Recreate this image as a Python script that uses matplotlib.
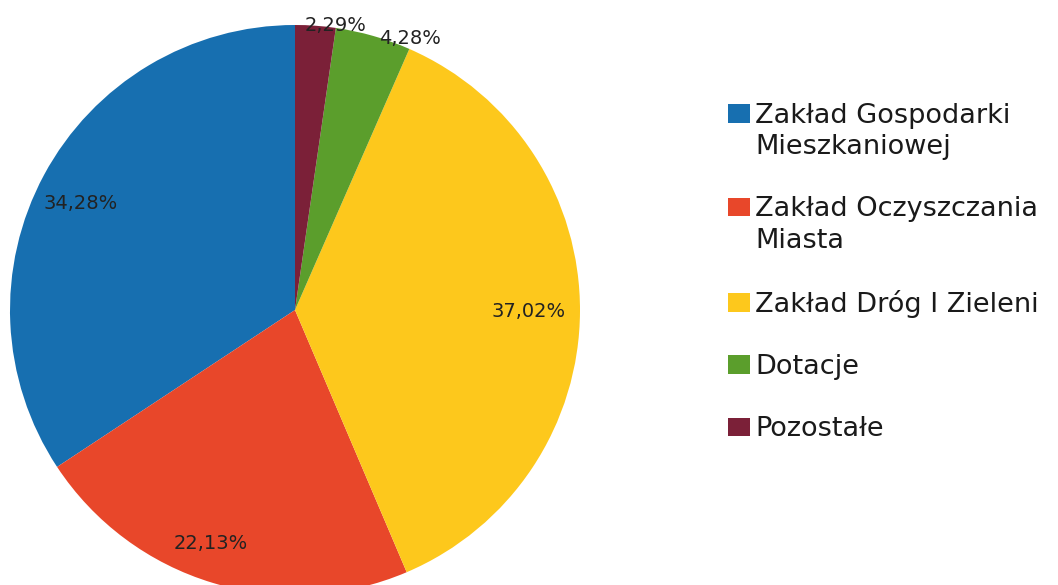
import matplotlib
matplotlib.use('Agg')
import matplotlib.pyplot as plt
from matplotlib.patches import Patch
import numpy as np

categories = ["Zakład Gospodarki\nMieszkaniowej", "Zakład Oczyszczania\nMiasta",
              "Zakład Dróg I Zieleni", "Dotacje", "Pozostałe"]
shares = [34.28, 22.13, 37.02, 4.28, 2.29]
colors = ["#176fb0", "#e8472a", "#fdc81c", "#5b9e2c", "#7b2038"]

# label placement per slice (radius, angle shift in degrees)
label_r = [0.84, 0.87, 0.82, 1.036, 1.01]
label_shift = [2, -3, 0, -7, -4]

fig = plt.figure(figsize=(10.58, 5.85), dpi=100)
# pie centre at (295, 310) px, radius 285 px
ax = fig.add_axes([10 / 1058, (275 - 285) / 585, 570 / 1058, 570 / 585])
wedges, _ = ax.pie(shares, colors=colors, startangle=90, counterclock=True,
                   wedgeprops=dict(linewidth=0))
ax.set_xlim(-1, 1)
ax.set_ylim(-1, 1)

for w, val, r, sh in zip(wedges, shares, label_r, label_shift):
    ang = np.deg2rad((w.theta1 + w.theta2) / 2 + sh)
    txt = f"{val:.2f}%".replace(".", ",")
    ax.text(r * np.cos(ang), r * np.sin(ang), txt, ha='center', va='center',
            fontsize=14, color='#222222', clip_on=False)

# legend: one row per text line, blank rows between entries
blank = Patch(facecolor='none', edgecolor='none')
handles, labels = [], []
for i, (w, name) in enumerate(zip(wedges, categories)):
    if i:
        handles.append(blank)
        labels.append(" ")
    for j, line in enumerate(name.split("\n")):
        handles.append(w if j == 0 else blank)
        labels.append(line)

fig.legend(handles, labels, loc='upper left', bbox_to_anchor=(728 / 1058, 1 - 103 / 585),
           frameon=False, fontsize=19.5, handlelength=0.8, handleheight=0.68,
           handletextpad=0.2, labelspacing=0.19, borderpad=0, borderaxespad=0,
           labelcolor='#1a1a1a')

fig.savefig('out.png', dpi=100)
